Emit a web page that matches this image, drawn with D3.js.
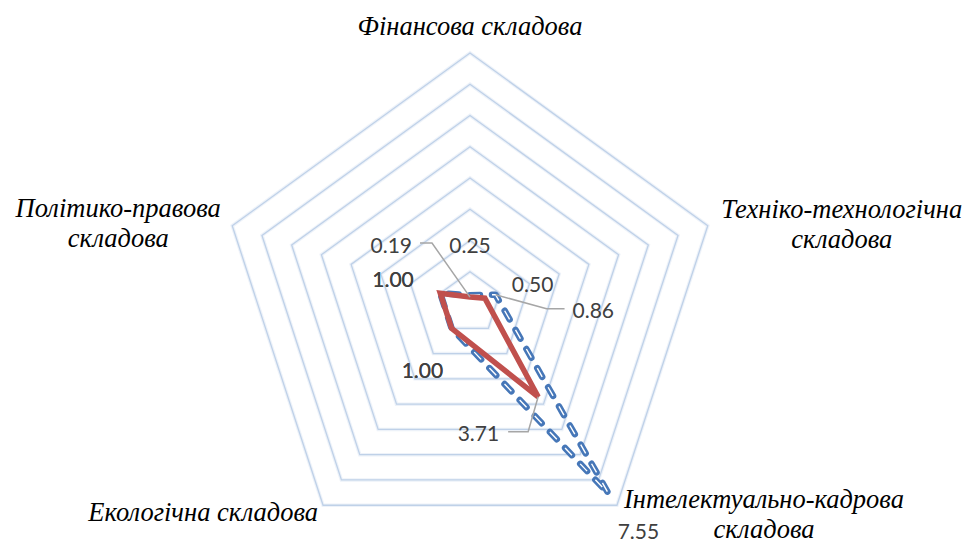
<!DOCTYPE html>
<html><head><meta charset="utf-8">
<script src="https://cdn.jsdelivr.net/npm/d3@7"></script>
<style>
html,body{margin:0;padding:0;background:#fff;}
svg{display:block;}
</style></head>
<body>
<svg id="chart" width="969" height="544"></svg>
<script>
// ---- data ----
const categories = ["Фінансова складова", "Техніко-технологічна складова", "Інтелектуально-кадрова складова", "Екологічна складова", "Політико-правова складова"];
const categoryLines = [["Фінансова складова"], ["Техніко-технологічна", "складова"], ["Інтелектуально-кадрова", "складова"], ["Екологічна складова"], ["Політико-правова", "складова"]];
const seriesBlue = [0.25, 0.86, 7.55, 1.00, 1.00];
const seriesRed = [0.19, 0.50, 3.71, 1.00, 1.00];
const gridValues = [1, 2, 3, 4, 5, 6, 7, 8];
const labelFormat = ".2f";

// ---- layout ----
const svg = d3.select("#chart");
const cx = 470, cy = 303, R = 250;
const r = d3.scaleLinear().domain([0, 8]).range([0, R]);
const ang = d3.scalePoint().domain(d3.range(categories.length)).range([0, 2 * Math.PI * (categories.length - 1) / categories.length]);
const pt = (i, v) => [cx + r(v) * Math.sin(ang(i)), cy - r(v) * Math.cos(ang(i))];
const line = d3.line().curve(d3.curveLinearClosed);

// gridlines
const g = svg.append("g");
gridValues.forEach(v => {
  const pts = categories.map((c, i) => pt(i, v));
  g.append("path").attr("d", line(pts)).attr("fill", "none")
    .attr("stroke", "#dbe5f3").attr("stroke-width", 3.5).attr("opacity", 0.5);
  g.append("path").attr("d", line(pts)).attr("fill", "none")
    .attr("stroke", "#bfd1e8").attr("stroke-width", 1.3);
});

// blue series (double dashed)
const bluePts = seriesBlue.map((v, i) => pt(i, v));
svg.append("path").attr("d", line(bluePts)).attr("fill", "none")
  .attr("stroke", "#4677b8").attr("stroke-width", 6.5).attr("stroke-dasharray", "10 12")
  .attr("stroke-linecap", "round").attr("stroke-linejoin", "round");
svg.append("path").attr("d", line(bluePts)).attr("fill", "none")
  .attr("stroke", "#ffffff").attr("stroke-width", 1.4).attr("stroke-dasharray", "10 12")
  .attr("stroke-linecap", "butt");

// red series
const redPts = seriesRed.map((v, i) => pt(i, v));
svg.append("path").attr("d", line(redPts)).attr("fill", "none")
  .attr("stroke", "#c0504d").attr("stroke-width", 5.5).attr("stroke-linejoin", "miter");

// ---- category labels ----
const catStyle = [
  {dx: 0, dy: -18, anchor: "middle"},
  {dx: 134, dy: -8, anchor: "middle"},
  {dx: 147, dy: 3, anchor: "middle"},
  {dx: -5, dy: 16, anchor: "end"},
  {dx: -114, dy: -9, anchor: "middle"}
];
categoryLines.forEach((lines, i) => {
  const [x, y] = pt(i, 8);
  const s = catStyle[i];
  const t = svg.append("text").attr("x", x + s.dx).attr("y", y + s.dy)
    .attr("text-anchor", s.anchor)
    .style("font-family", "'Liberation Serif','Times New Roman',serif")
    .style("font-style", "italic").style("font-size", "26.5px").attr("fill", "#000");
  lines.forEach((ln, k) => {
    t.append("tspan").attr("x", x + s.dx).attr("dy", k === 0 ? 0 : 30).text(ln);
  });
});

// ---- data labels ----
const fmt = d3.format(labelFormat);
const labelFont = "Lato, 'Open Sans', sans-serif";
function dataLabel(i, v, dx, dy, anchor, leader) {
  const [x, y] = pt(i, v);
  if (leader) {
    svg.append("polyline")
      .attr("points", [[x, y], [x + leader[0], y + leader[1]], [x + leader[2], y + leader[1]]].map(p => p.join(",")).join(" "))
      .attr("fill", "none").attr("stroke", "#a6a6a6").attr("stroke-width", 1.5);
  }
  svg.append("text").attr("x", x + dx).attr("y", y + dy).attr("text-anchor", anchor)
    .style("font-family", labelFont).style("font-size", "21px").attr("fill", "#404040")
    .text(fmt(v));
}
// red labels
dataLabel(0, seriesRed[0], -58, -44, "end", [-38, -54, -50]);
dataLabel(1, seriesRed[1], 27, -6, "start");
dataLabel(2, seriesRed[2], -39, 44, "end", [-10, 35, -30]);
dataLabel(3, seriesRed[3], -50, 50, "start");
dataLabel(4, seriesRed[4], -68, -6, "start");
// blue labels
dataLabel(0, seriesBlue[0], 0, -42, "middle");
dataLabel(1, seriesBlue[1], 77, 23, "start", [51, 14, 69]);
dataLabel(2, seriesBlue[2], 9, 45, "start");
dataLabel(3, seriesBlue[3], -50, 50, "start");
dataLabel(4, seriesBlue[4], -68, -6, "start");
</script>
</body></html>
